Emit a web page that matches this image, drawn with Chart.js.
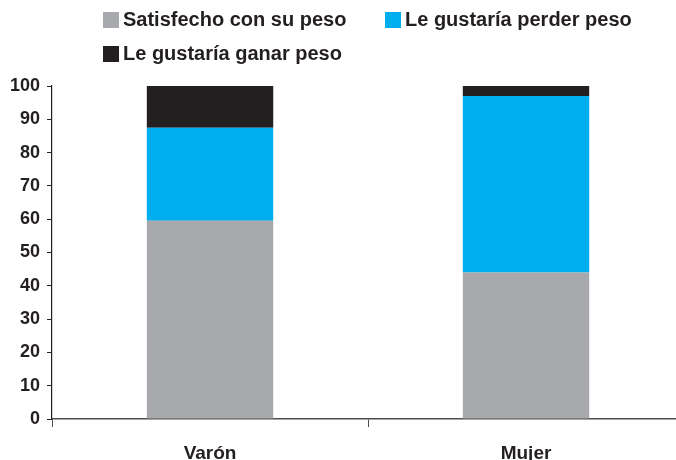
<!DOCTYPE html>
<html>
<head>
<meta charset="utf-8">
<script src="https://cdn.jsdelivr.net/npm/chart.js@4"></script>
<style>
  html, body { margin: 0; padding: 0; background: #ffffff; overflow: hidden; }
  #wrap { position: relative; width: 676px; height: 460px; overflow: hidden; }
  canvas { display: block; }
  .leg { position: absolute; display: flex; align-items: center; font-family: "Liberation Sans", Arial, sans-serif; font-weight: bold; font-size: 20px; color: #231f20; white-space: nowrap; }
  .leg .sw { width: 16px; height: 16px; margin-right: 4px; }
</style>
</head>
<body>
<div id="wrap">
  <canvas id="c" width="684" height="460"></canvas>
  <div class="leg" id="leg0" style="left:103px; top:8px;"><span class="sw"></span><span class="tx"></span></div>
  <div class="leg" id="leg1" style="left:385px; top:8px;"><span class="sw"></span><span class="tx"></span></div>
  <div class="leg" id="leg2" style="left:103px; top:42px;"><span class="sw"></span><span class="tx"></span></div>
</div>
<script>
const categories = ["Varón", "Mujer"];
const seriesNames = ["Satisfecho con su peso", "Le gustaría perder peso", "Le gustaría ganar peso"];
const satisfecho = [59.5, 44];
const perder = [28, 53];
const ganar = [12.5, 3];
const yTicks = [0, 10, 20, 30, 40, 50, 60, 70, 80, 90, 100];

const colors = ["#a7a9ac", "#00adef", "#231f20"];
const values = [satisfecho, perder, ganar];

seriesNames.forEach((name, i) => {
  const el = document.getElementById("leg" + i);
  el.querySelector(".sw").style.background = colors[i];
  el.querySelector(".tx").textContent = name;
});

const ctx = document.getElementById("c").getContext("2d");
new Chart(ctx, {
  type: "bar",
  data: {
    labels: categories,
    datasets: seriesNames.map((name, i) => ({
      label: name,
      data: values[i],
      backgroundColor: colors[i],
      borderWidth: 0,
      barPercentage: 0.4,
      categoryPercentage: 1.0
    }))
  },
  options: {
    responsive: false,
    animation: false,
    events: [],
    layout: { padding: { top: 86, left: 3, right: 0, bottom: -20 } },
    plugins: { legend: { display: false }, tooltip: { enabled: false } },
    scales: {
      x: {
        stacked: true,
        offset: true,
        grid: { display: true, drawOnChartArea: false, drawTicks: true, tickLength: 8, color: "#4d4d4f", lineWidth: 1, offset: true },
        border: { display: true, color: "#4d4d4f", width: 1.5 },
        ticks: { color: "#231f20", padding: 17, font: { family: "Liberation Sans", weight: "bold", size: 19, lineHeight: 1 } }
      },
      y: {
        stacked: true,
        min: 0,
        max: 100,
        afterBuildTicks: (axis) => { axis.ticks = yTicks.map(v => ({ value: v })); },
        grid: { display: true, drawOnChartArea: false, drawTicks: true, tickLength: 5, color: "#231f20", lineWidth: 1 },
        border: { display: true, color: "#231f20", width: 1.2 },
        ticks: { color: "#231f20", padding: 7, font: { family: "Liberation Sans", weight: "bold", size: 18 } }
      }
    }
  }
});
</script>
</body>
</html>
